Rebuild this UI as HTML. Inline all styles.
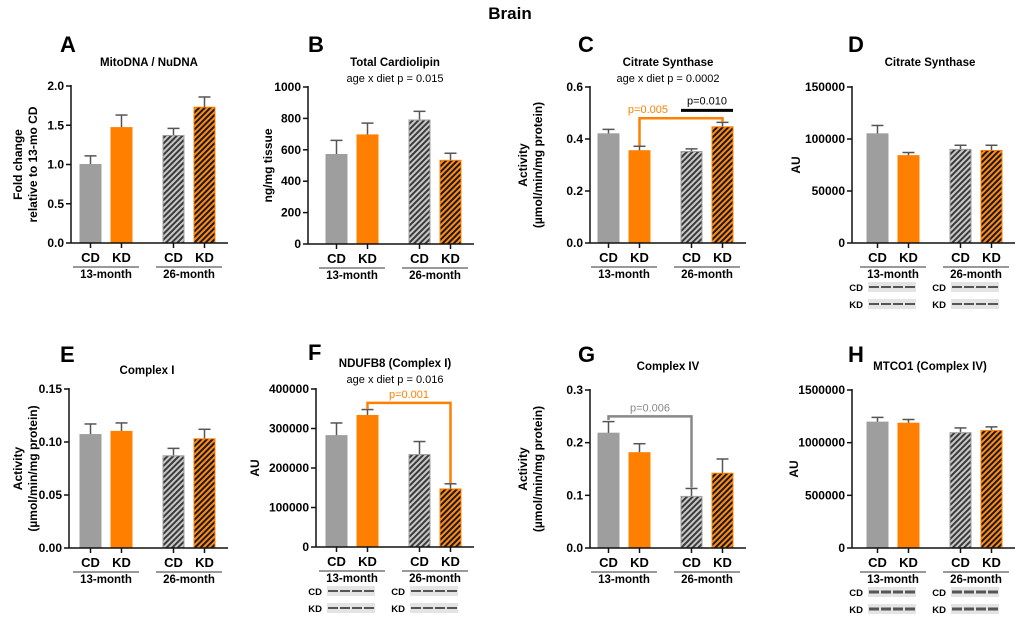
<!DOCTYPE html>
<html><head><meta charset="utf-8">
<style>
html,body{margin:0;padding:0;background:#fff;}
svg{display:block;font-family:"Liberation Sans",Arial,sans-serif;}
</style></head>
<body>
<svg id="fig" width="1020" height="621" viewBox="0 0 1020 621">
<defs>
<pattern id="hatchGray" patternUnits="userSpaceOnUse" width="4" height="4" patternTransform="rotate(45)">
<rect width="4" height="4" fill="#c8c8c8"/><rect width="2" height="4" fill="#3a3a3a"/></pattern>
<pattern id="hatchOrange" patternUnits="userSpaceOnUse" width="4" height="4" patternTransform="rotate(45)">
<rect width="4" height="4" fill="#ff8a1a"/><rect width="2" height="4" fill="#1a1a1a"/></pattern>
</defs>
<text x="510" y="19" text-anchor="middle" font-size="17" font-weight="bold">Brain</text>
</svg>
<script>
const groups = ["CD","KD","CD","KD"];
const ageLabels = ["13-month","26-month"];
const aMeans=[1.0,1.47,1.37,1.73], aErr=[0.11,0.16,0.09,0.13], aTicks=["0.0","0.5","1.0","1.5","2.0"];
const bMeans=[570,695,790,533], bErr=[90,75,55,45], bTicks=["0","200","400","600","800","1000"];
const cMeans=[0.42,0.355,0.352,0.447], cErr=[0.017,0.017,0.01,0.017], cTicks=["0.0","0.2","0.4","0.6"];
const dMeans=[105000,84000,90000,89000], dErr=[8000,3000,4000,5000], dTicks=["0","50000","100000","150000"];
const eMeans=[0.107,0.110,0.087,0.103], eErr=[0.010,0.008,0.007,0.009], eTicks=["0.00","0.05","0.10","0.15"];
const fMeans=[282000,333000,234000,147000], fErr=[32000,15000,33000,13000], fTicks=["0","100000","200000","300000","400000"];
const gMeans=[0.218,0.181,0.098,0.142], gErr=[0.022,0.017,0.015,0.027], gTicks=["0.0","0.1","0.2","0.3"];
const hMeans=[1195000,1185000,1095000,1115000], hErr=[45000,35000,45000,35000], hTicks=["0","500000","1000000","1500000"];

const svg=document.getElementById('fig');
const NS='http://www.w3.org/2000/svg';
function el(tag,attrs,parent,txt){const e=document.createElementNS(NS,tag);for(const k in attrs)e.setAttribute(k,attrs[k]);if(txt!==undefined)e.textContent=txt;(parent||svg).appendChild(e);return e;}

const fills=["#9e9e9e","#ff8000","url(#hatchGray)","url(#hatchOrange)"];
const strokes=["#9e9e9e","#ff8000","#9e9e9e","#ff8000"];

function panel(p){
  const g=el('g',{});
  
  
  const max=parseFloat(p.ticks[p.ticks.length-1]);
  const y=v=>p.y0-(v/max)*(p.y0-p.y1);
  const offs=[p.bo,p.bo+31,p.bo+83,p.bo+114];
  const bx=i=>p.ax+offs[i];
  const bw=21;
  const tx=p.tx!==undefined?p.tx:p.ax+78;
  const L=el('text',{x:p.lx,y:p.ly,'font-size':22,'font-weight':'bold'},g,p.id);
  
  const T=el('text',{x:tx,y:p.ty,'text-anchor':'middle','font-size':11.5,'font-weight':'bold'},g,p.title);
  
  if(p.sub){const S=el('text',{x:tx,y:p.ty+16,'text-anchor':'middle','font-size':11},g,p.sub);
    }
  p.ytitle.forEach((t,k)=>{const yy=(p.y0+p.y1)/2;const xx=p.ytx+k*15;
    const Y=el('text',{x:xx,y:yy,'text-anchor':'middle','font-size':12,'font-weight':'bold',transform:`rotate(-90 ${xx} ${yy})`},g,t);
    });
  for(let i=0;i<4;i++){
    const top=y(p.means[i]), et=y(p.means[i]+p.err[i]);
    el('line',{x1:bx(i)+bw/2,x2:bx(i)+bw/2,y1:top,y2:et,stroke:'#555','stroke-width':1.5},g);
    el('line',{x1:bx(i)+bw/2-6,x2:bx(i)+bw/2+6,y1:et,y2:et,stroke:'#555','stroke-width':1.5},g);
    const r=el('rect',{x:bx(i),y:top,width:bw,height:p.y0-top,fill:fills[i],stroke:strokes[i],'stroke-width':1},g);
    
    
  }
  el('line',{x1:p.ax,x2:p.ax,y1:p.y1-1,y2:p.y0,stroke:'#111','stroke-width':1.5},g);
  el('line',{x1:p.ax,x2:p.ax+p.bo+148,y1:p.y0,y2:p.y0,stroke:'#111','stroke-width':1.5},g);
  p.ticks.forEach(t=>{const v=parseFloat(t),yy=y(v);
    el('line',{x1:p.ax-5,x2:p.ax,y1:yy,y2:yy,stroke:'#111','stroke-width':1.5},g);
    const tl=el('text',{x:p.ax-7,y:yy+4,'text-anchor':'end','font-size':12,'font-weight':'bold'},g,t);
    });
  for(let i=0;i<4;i++){
    el('line',{x1:bx(i)+bw/2,x2:bx(i)+bw/2,y1:p.y0,y2:p.y0+5,stroke:'#111','stroke-width':1.5},g);
    const xl=el('text',{x:bx(i)+bw/2,y:p.y0+19,'text-anchor':'middle','font-size':13,'font-weight':'bold'},g,groups[i]);
    
  }
  for(let k=0;k<2;k++){
    const x1=bx(2*k)-7,x2=bx(2*k+1)+bw+7;
    el('line',{x1:x1,x2:x2,y1:p.y0+24,y2:p.y0+24,stroke:'#333','stroke-width':1},g);
    const al=el('text',{x:(x1+x2)/2,y:p.y0+35,'text-anchor':'middle','font-size':11.5,'font-weight':'bold'},g,ageLabels[k]);
    
  }
  (p.brackets||[]).forEach(b=>{
    const yb=y(b.v), x1=bx(b.i)+bw/2, x2=bx(b.j)+bw/2;
    const path=el('path',{d:`M${x1},${y(b.d1)} L${x1},${yb} L${x2},${yb} L${x2},${y(b.d2)}`,fill:'none',stroke:b.c,'stroke-width':2.5},g);
    
    const bt=el('text',{x:b.tx!==undefined?b.tx:(x1+x2)/2,y:yb-5,'text-anchor':b.anchor||'middle','font-size':11,fill:b.c},g,b.t);
    
  });
  (p.lines||[]).forEach(b=>{
    const yb=y(b.v);
    el('line',{x1:bx(b.i),x2:bx(b.j)+bw,y1:yb,y2:yb,stroke:'#000','stroke-width':3},g);
    const bt=el('text',{x:(bx(b.i)+bx(b.j)+bw)/2,y:yb-6,'text-anchor':'middle','font-size':11},g,b.t);
    
  });
  if(p.blot){
    for(let k=0;k<2;k++){for(let r=0;r<2;r++){
      const bxs=bx(2*k)+1, by=p.y0+44+r*17;
      const lb=el('text',{x:bxs-5,y:by+4,'text-anchor':'end','font-size':9.5,'font-weight':'bold'},g,groups[r]);
      
      const bl=el('rect',{x:bxs,y:by-5,width:48,height:10,fill:'#e4e4e4'},g);
      
      el('line',{x1:bxs+1,x2:bxs+47,y1:by,y2:by,stroke:'#555','stroke-width':p.blot,'stroke-dasharray':'10 2'},g);
    }}
  }
}

panel({id:'A',ax:71,bo:9,y0:243,y1:86,lx:60,ly:52,ty:66,title:'MitoDNA / NuDNA',ytitle:['Fold change','relative to 13-mo CD'],ytx:22,means:aMeans,err:aErr,ticks:aTicks});
panel({id:'B',ax:308,bo:18,y0:244,y1:87,lx:308,ly:52,ty:66,tx:395,title:'Total Cardiolipin',sub:'age x diet p = 0.015',ytitle:['ng/mg tissue'],ytx:272,means:bMeans,err:bErr,ticks:bTicks});
panel({id:'C',ax:590,bo:8,y0:243,y1:87,lx:578,ly:52,ty:66,title:'Citrate Synthase',sub:'age x diet p = 0.0002',ytitle:['Activity','(µmol/min/mg protein)'],ytx:527,means:cMeans,err:cErr,ticks:cTicks,
  brackets:[{i:1,j:3,v:0.48,d1:0.375,d2:0.468,c:'#ff8000',t:'p=0.005',tx:668,anchor:'end'}],lines:[{i:2,j:3,v:0.51,t:'p=0.010'}]});
panel({id:'D',ax:852,bo:15,y0:243,y1:87,lx:848,ly:52,ty:66,title:'Citrate Synthase',ytitle:['AU'],ytx:800,means:dMeans,err:dErr,ticks:dTicks,blot:2});
panel({id:'E',ax:69,bo:11,y0:548,y1:389,lx:60,ly:362,ty:374,title:'Complex I',ytitle:['Activity','(µmol/min/mg protein)'],ytx:22,means:eMeans,err:eErr,ticks:eTicks});
panel({id:'F',ax:316,bo:10,y0:547,y1:389,lx:308,ly:360,ty:367,tx:395,title:'NDUFB8 (Complex I)',sub:'age x diet p = 0.016',ytitle:['AU'],ytx:259,means:fMeans,err:fErr,ticks:fTicks,blot:2,
  brackets:[{i:1,j:3,v:365000,d1:350000,d2:162000,c:'#ff8000',t:'p=0.001'}]});
panel({id:'G',ax:590,bo:8,y0:548,y1:390,lx:578,ly:362,ty:370,title:'Complex IV',ytitle:['Activity','(µmol/min/mg protein)'],ytx:527,means:gMeans,err:gErr,ticks:gTicks,
  brackets:[{i:0,j:2,v:0.25,d1:0.243,d2:0.115,c:'#888',t:'p=0.006'}]});
panel({id:'H',ax:852,bo:15,y0:548,y1:390,lx:848,ly:362,ty:370,title:'MTCO1 (Complex IV)',ytitle:['AU'],ytx:798,means:hMeans,err:hErr,ticks:hTicks,blot:3});
</script>
</body></html>
